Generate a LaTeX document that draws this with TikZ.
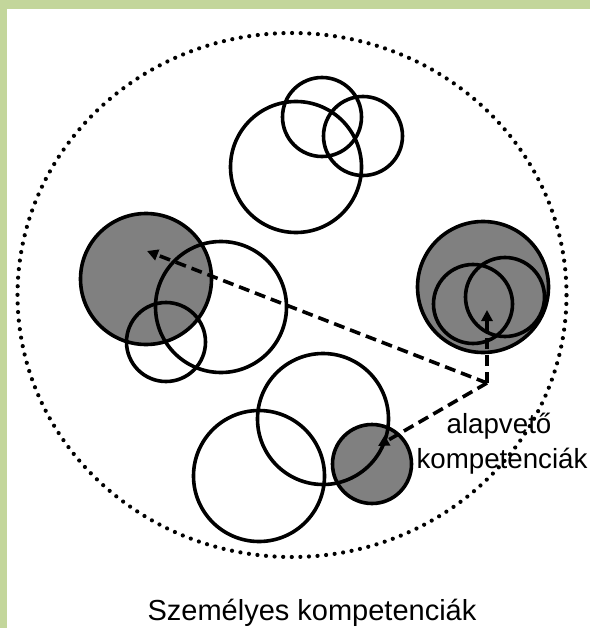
\documentclass[tikz,border=0pt]{standalone}
\usepackage{fontspec}
\setmainfont{Liberation Sans}
\usetikzlibrary{shapes.geometric,arrows.meta}
\definecolor{framegreen}{RGB}{195,214,155}
\definecolor{fillgray}{RGB}{128,128,128}
\tikzset{
 ring/.style={circle, draw=black, line width=3.6pt, inner sep=0pt, outer sep=0pt},
 big/.style={ring, minimum size=131pt},
 small/.style={ring, minimum size=79pt},
 shaded/.style={fill=fillgray},
 ptr/.style={line width=3.6pt, dash pattern=on 11pt off 6pt, -{Triangle[length=11pt,width=11pt]}},
 lbl/.style={font=\fontsize{27.7}{33}\selectfont, inner sep=0pt, anchor=base},
 outerring/.style={ellipse, draw=black, line width=4.2pt, dash pattern=on 0pt off 8.6pt, line cap=round, inner sep=0pt, minimum width=549pt, minimum height=524pt},
}
\begin{document}
\begin{tikzpicture}[x=1pt,y=-1pt]
\useasboundingbox (0,0) rectangle (590,628);
\fill[framegreen] (0,0) rectangle (590,628);
\fill[white] (7,9) rectangle (590,628);
\node[outerring] (outer) at (292,295) {};
% top group
\node[big] (t1) at (296,167) {};
\node[small] (t2) at (322,117) {};
\node[small] (t3) at (363,136) {};
% left group
\node[big, shaded] (l1) at (146,279) {};
\node[big] (l2) at (221,307) {};
\node[small] (l3) at (166,342) {};
% right group
\node[big, shaded] (r1) at (483,287) {};
\node[small] (r2) at (473,304) {};
\node[small] (r3) at (505,297) {};
% bottom group
\node[small, shaded] (b3) at (372,464) {};
\node[big] (b1) at (259,476) {};
\node[big] (b2) at (323,419) {};
% arrows
\coordinate (j) at (487,383);
\coordinate (tipL) at (147,251);
\coordinate (tipR) at (487,310);
\coordinate (tipB) at (378,446);
\draw[ptr] (j) -- (tipL);
\draw[ptr] (j) -- (tipR);
\draw[ptr] (j) -- (tipB);
% labels
\node[lbl] (a1) at (499,433) {alapvető};
\node[lbl] (a2) at (502,468) {kompetenciák};
\node[lbl, font=\fontsize{29}{34}\selectfont] (cap) at (312,620) {Személyes kompetenciák};
\end{tikzpicture}
\end{document}
